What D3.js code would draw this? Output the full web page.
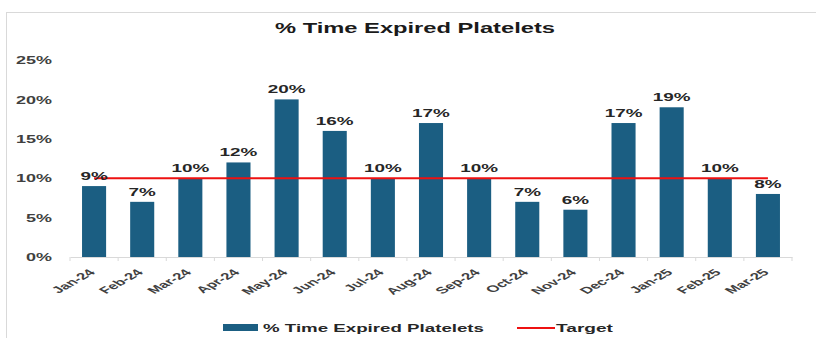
<!DOCTYPE html>
<html><head><meta charset="utf-8">
<script src="https://cdn.jsdelivr.net/npm/d3@7"></script>
<style>body{margin:0;background:#fff;} svg{display:block;font-family:"Liberation Sans",Arial,sans-serif;}</style>
</head><body>
<svg id="c" width="816" height="338"></svg>
<script>
const categories = ["Jan-24","Feb-24","Mar-24","Apr-24","May-24","Jun-24","Jul-24","Aug-24","Sep-24","Oct-24","Nov-24","Dec-24","Jan-25","Feb-25","Mar-25"];
const values = [9,7,10,12,20,16,10,17,10,7,6,17,19,10,8];
const target = [10,10,10,10,10,10,10,10,10,10,10,10,10,10,10];
const yTicks = [0,5,10,15,20,25];
const title = "% Time Expired Platelets";
const seriesName = "% Time Expired Platelets";
const targetName = "Target";

const svg = d3.select("#c");
const barColor = "#1b5e82", lineColor = "#ee1111", tickColor = "#404040", labelColor = "#262626";
const SX = 1.8; // horizontal stretch of the glyphs seen in the reference

svg.append("rect").attr("x",6.5).attr("y",12.5).attr("width",830).attr("height",340)
  .attr("fill","#fff").attr("stroke","#d9d9d9");

const x = d3.scaleBand().domain(categories).range([70,792]).paddingInner(0.5).paddingOuter(0.25);
const y = d3.scaleLinear().domain([0,25]).range([257,60]);

svg.append("text").attr("transform","translate(415,33)")
  .attr("text-anchor","middle").attr("font-size",14).attr("font-weight",700).attr("fill","#1a1a1a")
  .attr("textLength",280).attr("lengthAdjust","spacingAndGlyphs").text(title);

// y axis labels
const ya = svg.append("g").attr("transform","translate(52,0)")
  .call(d3.axisLeft(y).tickValues(yTicks).tickSize(0).tickPadding(0).tickFormat(d=>d+"%"));
ya.select(".domain").remove();
ya.selectAll(".tick text").attr("font-size",10).attr("font-weight",700).attr("fill",tickColor)
  .attr("font-family","Liberation Sans").attr("x",0).attr("dy","0.36em")
  .attr("transform",`scale(${SX},1)`);

// bars
svg.append("g").selectAll("rect").data(values).join("rect")
  .attr("x",(d,i)=>x(categories[i])).attr("width",x.bandwidth())
  .attr("y",d=>y(d)).attr("height",d=>y(0)-y(d)).attr("fill",barColor);

// x axis
const xa = svg.append("g").attr("transform","translate(0,257)")
  .call(d3.axisBottom(x).tickSize(0).tickPadding(0));
xa.select(".domain").attr("stroke","#d9d9d9");
const edges = categories.map(c=>x(c)-x.step()*x.paddingInner()/2).concat([792]);
xa.selectAll("line.sep").data(edges).join("line").attr("class","sep")
  .attr("x1",d=>d).attr("x2",d=>d).attr("y1",0).attr("y2",4).attr("stroke","#d9d9d9");
xa.selectAll(".tick text").attr("font-size",9.3).attr("font-weight",700).attr("fill",tickColor)
  .attr("font-family","Liberation Sans")
  .attr("text-anchor","end").attr("y",0).attr("dy",0)
  .attr("transform",`translate(2,16) scale(${SX},1) rotate(-45)`);

// target line
const line = d3.line().x((d,i)=>x(categories[i])+x.bandwidth()/2).y(d=>y(d));
svg.append("path").datum(target).attr("d",line).attr("fill","none").attr("stroke",lineColor).attr("stroke-width",2);

// data labels
svg.append("g").selectAll("text").data(values).join("text")
  .attr("transform",(d,i)=>`translate(${x(categories[i])+x.bandwidth()/2},${y(d)-6}) scale(${SX},1)`)
  .attr("text-anchor","middle").attr("font-size",10.5).attr("font-weight",700).attr("fill",labelColor)
  .text(d=>d+"%");

// legend
const lg = svg.append("g");
lg.append("rect").attr("x",223).attr("y",324).attr("width",35).attr("height",7).attr("fill",barColor);
lg.append("text").attr("x",263).attr("y",332).attr("font-size",10.7).attr("font-weight",700).attr("fill",labelColor)
  .attr("textLength",221).attr("lengthAdjust","spacingAndGlyphs").text(seriesName);
lg.append("line").attr("x1",517).attr("x2",555).attr("y1",328).attr("y2",328).attr("stroke",lineColor).attr("stroke-width",2);
lg.append("text").attr("x",556).attr("y",332).attr("font-size",10.7).attr("font-weight",700).attr("fill",labelColor)
  .attr("textLength",57).attr("lengthAdjust","spacingAndGlyphs").text(targetName);
</script>
</body></html>
